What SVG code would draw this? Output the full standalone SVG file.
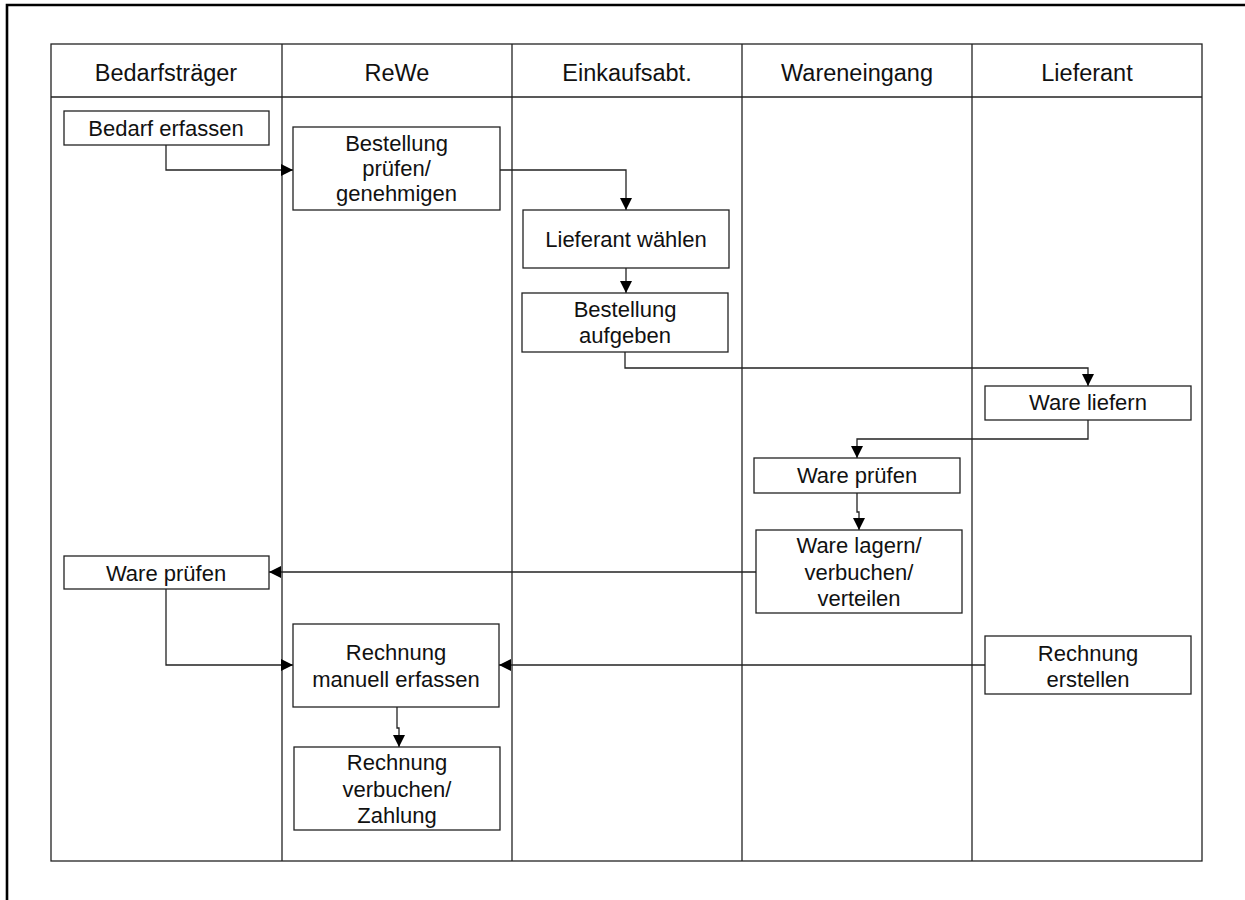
<svg xmlns="http://www.w3.org/2000/svg" width="1245" height="900" viewBox="0 0 1245 900">
  <style>
    text { font-family: "Liberation Sans", Arial, sans-serif; font-size: 22px; fill: #111; text-anchor: middle; }
    text.head { font-size: 23.5px; }
    .box { fill: #fff; stroke: #222; stroke-width: 1.3; }
    .grid { fill: none; stroke: #222; stroke-width: 1.3; }
    .edge { fill: none; stroke: #222; stroke-width: 1.3; marker-end: url(#arrow); }
  </style>
  <defs>
    <marker id="arrow" markerWidth="12" markerHeight="12" refX="12" refY="6" orient="auto" markerUnits="userSpaceOnUse">
      <path d="M0,0 L12,6 L0,12 Z" fill="#000"/>
    </marker>
  </defs>
  <rect width="1245" height="900" fill="#fff"/>

  <!-- page frame -->
  <path d="M7,900 V5 H1245" fill="none" stroke="#000" stroke-width="2.6"/>

  <!-- swimlane table -->
  <g id="lanes">
    <rect class="grid" x="51" y="44" width="1151" height="817"/>
    <line class="grid" x1="51" y1="97" x2="1202" y2="97"/>
    <line class="grid" x1="282" y1="44" x2="282" y2="861"/>
    <line class="grid" x1="512" y1="44" x2="512" y2="861"/>
    <line class="grid" x1="742" y1="44" x2="742" y2="861"/>
    <line class="grid" x1="972" y1="44" x2="972" y2="861"/>
    <text class="head" x="166" y="80.5">Bedarfsträger</text>
    <text class="head" x="397" y="80.5">ReWe</text>
    <text class="head" x="627" y="80.5">Einkaufsabt.</text>
    <text class="head" x="857" y="80.5">Wareneingang</text>
    <text class="head" x="1087" y="80.5">Lieferant</text>
  </g>

  <!-- connectors -->
  <g id="connectors">
    <path class="edge" d="M166,145 V170 H293"/>
    <path class="edge" d="M500,170 H626 V210"/>
    <path class="edge" d="M626,268 V293"/>
    <path class="edge" d="M625,352 V368 H1088 V386"/>
    <path class="edge" d="M1088,420 V439 H857 V458"/>
    <path class="edge" d="M857,493 V512 H859 V530"/>
    <path class="edge" d="M756,572 H269"/>
    <path class="edge" d="M166,589 V665 H293"/>
    <path class="edge" d="M985,665 H499"/>
    <path class="edge" d="M397,707 V728 H399 V747"/>
  </g>

  <g id="bedarf-erfassen">
    <rect class="box" x="64" y="111" width="205" height="34"/>
    <text x="166" y="136">Bedarf erfassen</text>
  </g>
  <g id="bestellung-pruefen">
    <rect class="box" x="293" y="127" width="207" height="83"/>
    <text x="396.5" y="151">Bestellung</text>
    <text x="396.5" y="176">prüfen/</text>
    <text x="396.5" y="201">genehmigen</text>
  </g>
  <g id="lieferant-waehlen">
    <rect class="box" x="523" y="210" width="206" height="58"/>
    <text x="626" y="247">Lieferant wählen</text>
  </g>
  <g id="bestellung-aufgeben">
    <rect class="box" x="522" y="293" width="206" height="59"/>
    <text x="625" y="317">Bestellung</text>
    <text x="625" y="343">aufgeben</text>
  </g>
  <g id="ware-liefern">
    <rect class="box" x="985" y="386" width="206" height="34"/>
    <text x="1088" y="410">Ware liefern</text>
  </g>
  <g id="ware-pruefen-we">
    <rect class="box" x="754" y="458" width="206" height="35"/>
    <text x="857" y="483">Ware prüfen</text>
  </g>
  <g id="ware-lagern">
    <rect class="box" x="756" y="530" width="206" height="83"/>
    <text x="859" y="553">Ware lagern/</text>
    <text x="859" y="580">verbuchen/</text>
    <text x="859" y="606">verteilen</text>
  </g>
  <g id="ware-pruefen-bt">
    <rect class="box" x="64" y="556" width="205" height="33"/>
    <text x="166" y="581">Ware prüfen</text>
  </g>
  <g id="rechnung-erfassen">
    <rect class="box" x="293" y="624" width="206" height="83"/>
    <text x="396" y="660">Rechnung</text>
    <text x="396" y="687">manuell erfassen</text>
  </g>
  <g id="rechnung-erstellen">
    <rect class="box" x="985" y="636" width="206" height="58"/>
    <text x="1088" y="661">Rechnung</text>
    <text x="1088" y="687">erstellen</text>
  </g>
  <g id="rechnung-verbuchen">
    <rect class="box" x="294" y="747" width="206" height="83"/>
    <text x="397" y="770">Rechnung</text>
    <text x="397" y="797">verbuchen/</text>
    <text x="397" y="823">Zahlung</text>
  </g>
</svg>
